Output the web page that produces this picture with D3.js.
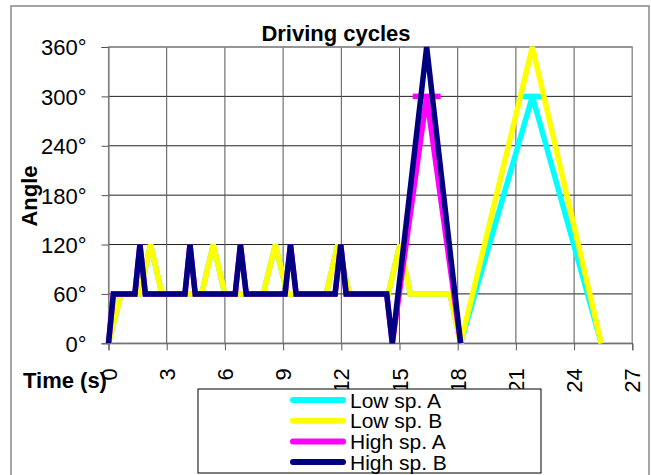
<!DOCTYPE html>
<html>
<head>
<meta charset="utf-8">
<script src="https://cdn.jsdelivr.net/npm/d3@7/dist/d3.min.js"></script>
<style>
  html, body { margin: 0; padding: 0; background: #fff; }
  svg { display: block; font-family: "Liberation Sans", Arial, sans-serif; }
</style>
</head>
<body>
<svg id="chart" width="651" height="475"></svg>
<script>
// ---- Data ----
const seriesNames = ["Low sp. A", "Low sp. B", "High sp. A", "High sp. B"];
const seriesColors = ["#00FFFF", "#FFFF00", "#FF00FF", "#000080"];

const lowA_time  = [0, 0.65, 1.6, 2.17, 2.75, 4.8, 5.4, 6.0, 7.98, 8.6, 9.22, 11.22, 11.82, 12.42, 14.42, 15.02, 15.56, 17.6, 18.15, 21.85, 25.4];
const lowA_angle = [0, 60, 60, 120, 60, 60, 120, 60, 60, 120, 60, 60, 120, 60, 60, 120, 60, 60, 0, 300, 0];

const lowB_time  = [0, 0.65, 1.6, 2.17, 2.75, 4.8, 5.4, 6.0, 7.98, 8.6, 9.22, 11.22, 11.82, 12.42, 14.42, 15.02, 15.56, 17.6, 18.15, 21.85, 25.4];
const lowB_angle = [0, 60, 60, 120, 60, 60, 120, 60, 60, 120, 60, 60, 120, 60, 60, 120, 60, 60, 0, 360, 0];

const highA_time  = [0, 0.25, 1.36, 1.62, 1.9, 3.94, 4.2, 4.47, 6.53, 6.8, 7.1, 9.1, 9.38, 9.67, 11.68, 11.97, 12.25, 14.34, 14.63, 16.4, 18.15];
const highA_angle = [0, 60, 60, 120, 60, 60, 120, 60, 60, 120, 60, 60, 120, 60, 60, 120, 60, 60, 0, 300, 0];

const highB_time  = [0, 0.25, 1.36, 1.62, 1.9, 3.94, 4.2, 4.47, 6.53, 6.8, 7.1, 9.1, 9.38, 9.67, 11.68, 11.97, 12.25, 14.34, 14.63, 16.4, 18.15];
const highB_angle = [0, 60, 60, 120, 60, 60, 120, 60, 60, 120, 60, 60, 120, 60, 60, 120, 60, 60, 0, 360, 0];

const xTicks = [0, 3, 6, 9, 12, 15, 18, 21, 24, 27];
const yTicks = [0, 60, 120, 180, 240, 300, 360];
const dashMarkerSeries = ["Low sp. A", "High sp. A"]; // series drawn with a dash marker at their peak

const chartTitle = "Driving cycles";
const xTitle = "Time (s)";
const yTitle = "Angle";

// ---- Build series ----
const seriesTimes = [lowA_time, lowB_time, highA_time, highB_time];
const seriesAngles = [lowA_angle, lowB_angle, highA_angle, highB_angle];
const series = seriesNames.map((name, i) => ({
  name,
  color: seriesColors[i],
  points: seriesTimes[i].map((t, j) => ({ t, v: seriesAngles[i][j] }))
}));

// ---- Layout ----
const svg = d3.select("#chart");
const plot = { left: 108.5, right: 632.3, top: 47, bottom: 343.3 };

const x = d3.scaleLinear().domain([0, 27]).range([plot.left, plot.right]);
const y = d3.scaleLinear().domain([0, 360]).range([plot.bottom, plot.top]);

// outer chart border
svg.append("rect")
  .attr("x", 11).attr("y", 6).attr("width", 638).attr("height", 480)
  .attr("fill", "#fff").attr("stroke", "#888").attr("stroke-width", 1.5);

// gridlines
const g = svg.append("g");
g.selectAll("line.hgrid").data(yTicks).join("line")
  .attr("class", "hgrid")
  .attr("x1", plot.left).attr("x2", plot.right)
  .attr("y1", d => y(d)).attr("y2", d => y(d))
  .attr("stroke", "#222").attr("stroke-width", 1);
g.selectAll("line.vgrid").data(xTicks).join("line")
  .attr("class", "vgrid")
  .attr("x1", d => x(d)).attr("x2", d => x(d))
  .attr("y1", plot.top).attr("y2", plot.bottom)
  .attr("stroke", "#555").attr("stroke-width", 1);

// plot border (top / right lighter)
svg.append("rect")
  .attr("x", plot.left).attr("y", plot.top)
  .attr("width", plot.right - plot.left).attr("height", plot.bottom - plot.top)
  .attr("fill", "none").attr("stroke", "#999").attr("stroke-width", 1.2);

// axes
const yAxis = d3.axisLeft(y).tickValues(yTicks).tickSize(7).tickFormat(d => d + "°");
const yAxisG = svg.append("g").attr("transform", `translate(${plot.left},0)`).call(yAxis);
yAxisG.select(".domain").attr("stroke", "#666");
yAxisG.selectAll(".tick line").attr("stroke", "#555");
yAxisG.selectAll(".tick text")
  .attr("x", -22).attr("dy", "0.36em")
  .attr("font-size", 22).attr("fill", "#000")
  .attr("font-family", "'Liberation Sans', Arial, sans-serif");

const xAxis = d3.axisBottom(x).tickValues(xTicks).tickSize(7).tickFormat(d3.format("d"));
const xAxisG = svg.append("g").attr("transform", `translate(0,${plot.bottom})`).call(xAxis);
xAxisG.select(".domain").attr("stroke", "#666");
xAxisG.selectAll(".tick line").attr("stroke", "#555");
xAxisG.selectAll(".tick text")
  .attr("font-size", 22).attr("fill", "#000")
  .attr("font-family", "'Liberation Sans', Arial, sans-serif")
  .attr("y", 0).attr("dy", null)
  .attr("text-anchor", "end")
  .attr("dominant-baseline", "central")
  .attr("transform", "translate(0,25) rotate(-90)");

// series lines
const line = d3.line().x(d => x(d.t)).y(d => y(d.v));
const linesG = svg.append("g");
series.forEach(s => {
  linesG.append("path")
    .datum(s.points)
    .attr("d", line)
    .attr("fill", "none")
    .attr("stroke", s.color)
    .attr("stroke-width", 5.5)
    .attr("stroke-linejoin", "miter")
    .attr("stroke-miterlimit", 2);
  if (dashMarkerSeries.includes(s.name)) {
    const peak = s.points.reduce((a, b) => (b.v > a.v ? b : a));
    linesG.append("line")
      .attr("x1", x(peak.t) - 14).attr("x2", x(peak.t) + 14)
      .attr("y1", y(peak.v)).attr("y2", y(peak.v))
      .attr("stroke", s.color).attr("stroke-width", 5.5);
  }
});

// titles
svg.append("text")
  .attr("x", 336).attr("y", 41)
  .attr("text-anchor", "middle")
  .attr("font-size", 22).attr("font-weight", "bold")
  .text(chartTitle);

svg.append("text")
  .attr("transform", "translate(37,196) rotate(-90)")
  .attr("text-anchor", "middle")
  .attr("font-size", 22).attr("font-weight", "bold")
  .text(yTitle);

svg.append("text")
  .attr("x", 23).attr("y", 388)
  .attr("text-anchor", "start")
  .attr("font-size", 22).attr("font-weight", "bold")
  .text(xTitle);

// legend
const legend = svg.append("g");
legend.append("rect")
  .attr("x", 198).attr("y", 389).attr("width", 343).attr("height", 84)
  .attr("fill", "#fff").attr("stroke", "#000").attr("stroke-width", 1);
const rowY = i => 400 + i * 20.7;
series.forEach((s, i) => {
  legend.append("line")
    .attr("x1", 293).attr("x2", 343)
    .attr("y1", rowY(i)).attr("y2", rowY(i))
    .attr("stroke", s.color).attr("stroke-width", 6)
    .attr("stroke-linecap", "round");
  legend.append("text")
    .attr("x", 350).attr("y", rowY(i))
    .attr("dominant-baseline", "central")
    .attr("font-size", 21)
    .text(s.name);
});
</script>
</body>
</html>
